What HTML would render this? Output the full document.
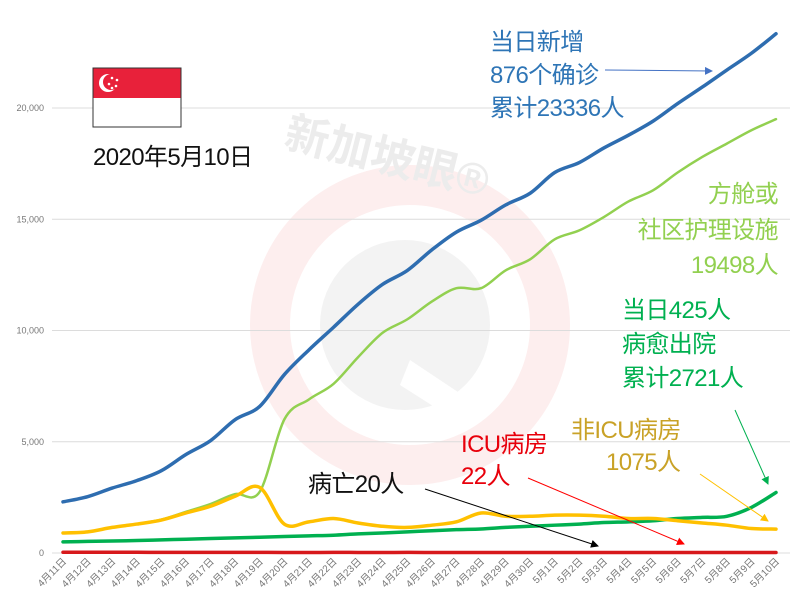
<!DOCTYPE html>
<html><head><meta charset="utf-8">
<style>
html,body{margin:0;padding:0;background:#fff;}
svg{display:block;font-family:"Liberation Sans","Noto Sans CJK SC",sans-serif;}
.ann{letter-spacing:-0.6px;}
</style></head>
<body>
<svg id="chart" width="800" height="612" viewBox="0 0 800 612">
<g>
  <circle cx="410" cy="325" r="140" fill="none" stroke="#fdeeee" stroke-width="40"/>
  <circle cx="405" cy="325" r="85" fill="#f3f3f3"/>
  <path d="M410 360 L470 400 L455 420 L400 385 Z" fill="#fff"/>
  <text x="285" y="175" font-size="44" fill="#ececec" font-weight="bold" transform="rotate(14 400 150)">新加坡眼®</text>
</g>
<g id="grid"></g>
<g id="yticks"></g>
<g id="xticks"></g>
<g id="series"></g>

<g>
  <rect x="93" y="68" width="88" height="30" fill="#e8213a"/>
  <rect x="93" y="98" width="88" height="29" fill="#fff"/>
  <rect x="93" y="68" width="88" height="59" fill="none" stroke="#333" stroke-width="1"/>
  <circle cx="108" cy="83" r="9" fill="#fff"/><circle cx="111" cy="82" r="8" fill="#e8213a"/>
  <circle cx="112" cy="78" r="1.3" fill="#fff"/><circle cx="117" cy="80" r="1.3" fill="#fff"/><circle cx="116" cy="86" r="1.3" fill="#fff"/><circle cx="112" cy="88" r="1.3" fill="#fff"/><circle cx="109" cy="84" r="1.3" fill="#fff"/>
</g>
<text x="93" y="165" font-size="24" fill="#111" class="ann">2020年5月10日</text>

<defs>
 <marker id="ab" markerWidth="8" markerHeight="8" refX="7" refY="4" orient="auto"><path d="M0,0 L8,4 L0,8Z" fill="#4472c4"/></marker>
 <marker id="ag" markerWidth="8" markerHeight="8" refX="7" refY="4" orient="auto"><path d="M0,0 L8,4 L0,8Z" fill="#00b050"/></marker>
 <marker id="ay" markerWidth="8" markerHeight="8" refX="7" refY="4" orient="auto"><path d="M0,0 L8,4 L0,8Z" fill="#ffc000"/></marker>
 <marker id="ar" markerWidth="8" markerHeight="8" refX="7" refY="4" orient="auto"><path d="M0,0 L8,4 L0,8Z" fill="#ff0000"/></marker>
 <marker id="ak" markerWidth="8" markerHeight="8" refX="7" refY="4" orient="auto"><path d="M0,0 L8,4 L0,8Z" fill="#000"/></marker>
</defs>

<g fill="#2e75b6" font-size="24" class="ann">
  <text x="490" y="50">当日新增</text><text x="490" y="83">876个确诊</text><text x="490" y="116">累计23336人</text>
  <line x1="605" y1="70" x2="712" y2="71" stroke="#4472c4" stroke-width="1" marker-end="url(#ab)"/>
</g>
<g fill="#92d050" font-size="24" text-anchor="end" class="ann">
  <text x="778" y="202">方舱或</text><text x="778" y="238">社区护理设施</text><text x="778" y="273">19498人</text>
</g>
<g fill="#00b050" font-size="24" class="ann">
  <text x="622" y="318">当日425人</text><text x="622" y="352">病愈出院</text><text x="622" y="386">累计2721人</text>
  <line x1="735" y1="410" x2="768" y2="484" stroke="#00b050" stroke-width="1" marker-end="url(#ag)"/>
</g>
<g fill="#c9a227" font-size="24" class="ann">
  <text x="571" y="438">非ICU病房</text><text x="606" y="470">1075人</text>
  <line x1="700" y1="474" x2="768" y2="521" stroke="#ffc000" stroke-width="1" marker-end="url(#ay)"/>
</g>
<g fill="#e8000b" font-size="24" class="ann">
  <text x="461" y="452">ICU病房</text><text x="461" y="484">22人</text>
  <line x1="528" y1="478" x2="684" y2="544" stroke="#ff0000" stroke-width="1" marker-end="url(#ar)"/>
</g>
<g fill="#111" font-size="24" class="ann">
  <text x="308" y="492">病亡20人</text>
  <line x1="425" y1="489" x2="598" y2="546" stroke="#000" stroke-width="1" marker-end="url(#ak)"/>
</g>
</svg>
<script>
const categories=["4月11日","4月12日","4月13日","4月14日","4月15日","4月16日","4月17日","4月18日","4月19日","4月20日","4月21日","4月22日","4月23日","4月24日","4月25日","4月26日","4月27日","4月28日","4月29日","4月30日","5月1日","5月2日","5月3日","5月4日","5月5日","5月6日","5月7日","5月8日","5月9日","5月10日"];
const totalCases=[2299,2532,2918,3252,3699,4427,5050,5992,6588,8014,9125,10141,11178,12075,12693,13624,14423,14951,15641,16169,17101,17548,18205,18778,19410,20198,20939,21707,22460,23336];
const communityCare=[900,950,1150,1300,1500,1850,2200,2650,2750,6000,6900,7600,8800,9900,10500,11300,11900,11900,12700,13200,14100,14500,15100,15800,16300,17100,17800,18400,19000,19498];
const nonIcuWard=[900,950,1150,1300,1480,1800,2100,2550,2950,1300,1400,1550,1350,1200,1150,1250,1400,1800,1650,1650,1700,1700,1650,1550,1550,1450,1350,1250,1100,1075];
const discharged=[500,520,540,560,590,620,650,680,710,740,770,800,860,900,950,1000,1050,1080,1150,1200,1250,1300,1370,1400,1450,1550,1600,1650,2050,2721];
const icu=[31,31,32,32,29,29,28,27,26,24,24,26,25,24,26,24,23,24,23,22,24,24,23,22,22,22,23,24,22,22];
const deaths=[10,10,11,11,11,11,11,11,11,11,11,12,12,14,14,14,14,15,16,17,18,18,18,18,18,18,20,20,20,20];
const yTicks=[0,5000,10000,15000,20000];
const yTickLabels=["0","5,000","10,000","15,000","20,000"];

const svg=document.getElementById('chart');
const NS='http://www.w3.org/2000/svg';
const x0=63,x1=776,yBase=553,yPer=(553-108)/20000;
function xs(i){return x0+(x1-x0)*i/(categories.length-1);}
function ys(v){return yBase-v*yPer;}
function mk(t,a,p){const e=document.createElementNS(NS,t);for(const k in a)e.setAttribute(k,a[k]);p.appendChild(e);return e;}

const grid=document.getElementById('grid'),yt=document.getElementById('yticks'),xt=document.getElementById('xticks'),ser=document.getElementById('series');
yTicks.forEach((v,i)=>{
  const l=mk('line',{x1:52,x2:790,y1:ys(v),y2:ys(v),stroke:'#dcdcdc','stroke-width':1},grid);
  
  
  const t=mk('text',{x:44,y:ys(v)+3,'font-size':9,fill:'#777','text-anchor':'end'},yt);
  t.textContent=yTickLabels[i];
  
  
});
categories.forEach((c,i)=>{
  const t=mk('text',{x:xs(i)+4,y:562,'font-size':10,fill:'#777','text-anchor':'end',transform:`rotate(-45 ${xs(i)+4} 562)`},xt);
  t.textContent=c;
  
  
});
function smooth(arr){
  const p=arr.map((v,i)=>[xs(i),ys(v)]);
  let d=`M${p[0][0]},${p[0][1]}`;
  for(let i=0;i<p.length-1;i++){
    const a=p[i-1]||p[i],b=p[i],c=p[i+1],e=p[i+2]||c;
    const c1=[b[0]+(c[0]-a[0])/6,b[1]+(c[1]-a[1])/6],c2=[c[0]-(e[0]-b[0])/6,c[1]-(e[1]-b[1])/6];
    d+=` C${c1[0]},${c1[1]} ${c2[0]},${c2[1]} ${c[0]},${c[1]}`;
  }
  return d;
}
function line(arr,color,w,name){
  const p=mk('path',{d:smooth(arr),fill:'none',stroke:color,'stroke-width':w,'stroke-linejoin':'round','stroke-linecap':'round'},ser);
  
  
}
line(deaths,'#222',2,'line-deaths');
line(discharged,'#00b050',3.5,'line-discharged');
line(communityCare,'#92d050',2.5,'line-community-care');
line(nonIcuWard,'#ffc000',3.5,'line-non-icu-ward');
line(totalCases,'#2e6db0',3.5,'line-total-cases');
line(icu,'#d7191c',3.5,'line-icu');
</script>
</body></html>
